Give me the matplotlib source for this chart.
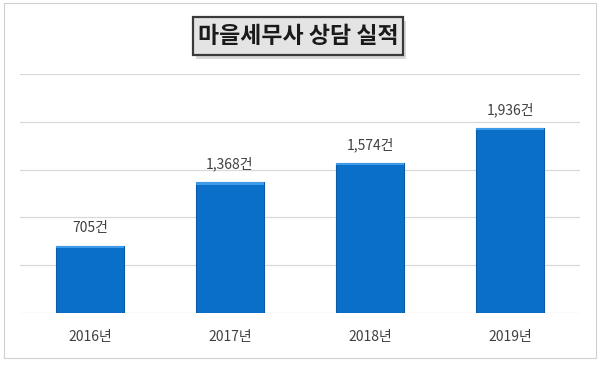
import matplotlib
matplotlib.use('Agg')
from matplotlib import pyplot as plt
from matplotlib.patches import Rectangle

plt.rcParams['font.family'] = ['Noto Sans CJK KR', 'DejaVu Sans']

# data
years = ['2016년', '2017년', '2018년', '2019년']
counts = [705, 1368, 1574, 1936]
value_labels = ['705건', '1,368건', '1,574건', '1,936건']

fig = plt.figure(figsize=(6, 3.65), dpi=100)
ax = fig.add_axes([0.0333, 0.1425, 0.9334, 0.6545])

x = range(len(years))
bars = ax.bar(x, counts, width=0.49, color='#0a6fc8', edgecolor='#0b5aa6',
              linewidth=0.8, zorder=3)

# light bevel on top of each bar
for b in bars:
    ax.add_patch(Rectangle((b.get_x(), b.get_height() - 25), b.get_width(), 25,
                           facecolor='#3d9be8', edgecolor='none', zorder=4))

for xi, v, lab in zip(x, counts, value_labels):
    ax.text(xi, v + 110, lab, ha='center', va='bottom', fontsize=10,
            color='#404040')

ax.set_xlim(-0.5, len(years) - 0.5)
ax.set_ylim(0, 2500)
ax.set_yticks(range(0, 2501, 500))
ax.set_yticklabels([])
ax.set_xticks(list(x))
ax.set_xticklabels(years, fontsize=10, color='#404040')
ax.tick_params(axis='both', length=0, pad=12)
ax.grid(axis='y', color='#d9d9d9', linewidth=0.9, zorder=0)
for s in ax.spines.values():
    s.set_visible(False)

# outer frame
fig.patches.append(Rectangle((0.006, 0.019), 0.988, 0.972, transform=fig.transFigure,
                             fill=False, edgecolor='#d0d0d0', linewidth=0.8))

# title box with shadow
fig.patches.append(Rectangle((0.327, 0.838), 0.350, 0.104, transform=fig.transFigure,
                             facecolor='#c8c8c8', edgecolor='none', alpha=0.7))
fig.patches.append(Rectangle((0.322, 0.849), 0.350, 0.104, transform=fig.transFigure,
                             facecolor='#e4e4e4', edgecolor='#3a3a3a', linewidth=1.6))
fig.text(0.497, 0.900, '마을세무사 상담 실적', ha='center', va='center',
         fontsize=16.5, fontweight='bold', color='#1a1a1a')

fig.savefig('out.png', dpi=100)
